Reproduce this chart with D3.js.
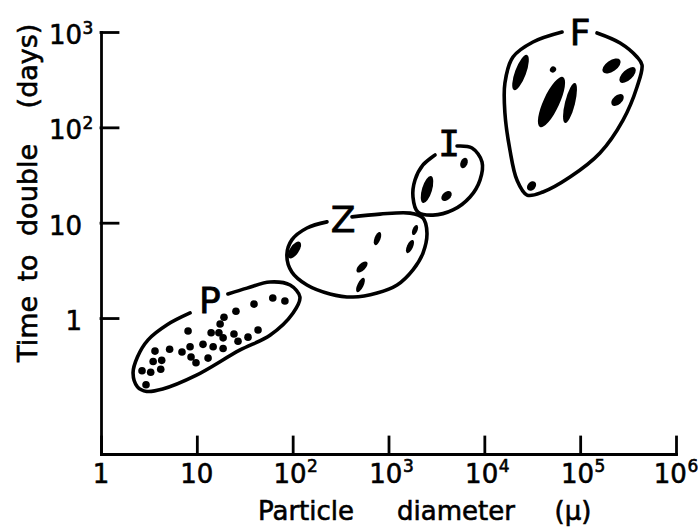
<!DOCTYPE html>
<html>
<head>
<meta charset="utf-8">
<script src="https://cdn.jsdelivr.net/npm/d3@7"></script>
<style>
  html, body { margin: 0; padding: 0; background: #fff; }
  svg { display: block; }
  text { font-family: "DejaVu Sans", sans-serif; fill: #000; stroke: #000; stroke-width: 0.6px; }
</style>
</head>
<body>
<svg id="chart" width="698" height="527"></svg>
<script>
// ---------------- DATA ----------------
// axis ticks
const xTickValues = [1, 10, 100, 1e3, 1e4, 1e5, 1e6];
const xTickLabels = [["1", ""], ["10", ""], ["10", "2"], ["10", "3"], ["10", "4"], ["10", "5"], ["10", "6"]];
const yTickValues = [1, 10, 100, 1000];
const yTickLabels = [["1", ""], ["10", ""], ["10", "2"], ["10", "3"]];

// group labels (diameter μ, days)
const groupNames = ["P", "Z", "I", "F"];
const groupLabelPos = [[13.7, 1.55], [335, 10.9], [4280, 68.5], [99600, 1000]];

// group envelopes: [diameter μ, doubling time days]
const outlineP = [[21.1, 1.79], [33.4, 2.06], [58, 2.39], [94, 2.22], [119, 1.66], [101, 1.13], [58, 0.66], [28, 0.46],
  [9.8, 0.25], [4.4, 0.18], [3.0, 0.17], [2.4, 0.19], [2.16, 0.265], [2.4, 0.39], [3.1, 0.59], [4.9, 0.85], [8.5, 1.13]];
const outlineZ = [[416, 11.5], [815, 12.3], [1680, 12.6], [2290, 11.2], [2520, 7.8], [2290, 4.8], [1800, 3.2], [1230, 2.22],
  [760, 1.83], [426, 1.66], [245, 1.79], [141, 2.22], [98, 3.04], [87, 4.6], [98, 6.6], [141, 8.8], [228, 10.2]];
const outlineI = [[5190, 63.7], [7440, 60.7], [9460, 43.3], [9010, 28.0], [7090, 18.6], [4710, 13.6], [2910, 12.0],
  [2030, 12.9], [1800, 18.6], [1890, 28.0], [2290, 40.3], [3060, 51.3]];
const outlineF = [[1.50e5, 977], [2.61e5, 767], [3.92e5, 547], [4.42e5, 451], [3.92e5, 265], [2.80e5, 119], [1.61e5, 53.8],
  [7.83e4, 30.1], [4.09e4, 21.0], [2.79e4, 19.5], [2.19e4, 28.0], [1.85e4, 57.8], [1.64e4, 141], [1.64e4, 292],
  [1.99e4, 547], [3.22e4, 786], [6.47e4, 1000]];

// phytoplankton points [diameter μ, days]
const pointsP = [[62, 1.62], [83, 1.51], [39.5, 1.40], [25.6, 1.18], [19.2, 1.02], [17.5, 0.865], [8.1, 0.73], [14.1, 0.70],
  [17.0, 0.70], [24.4, 0.68], [43.5, 0.75], [34.2, 0.63], [18.8, 0.62], [26.9, 0.57], [11.6, 0.53], [14.8, 0.50],
  [18.8, 0.48], [8.5, 0.50], [5.2, 0.47], [3.66, 0.45], [7.0, 0.44], [8.7, 0.39], [13.1, 0.38], [4.3, 0.36],
  [3.5, 0.35], [9.8, 0.34], [4.2, 0.29], [2.68, 0.28], [3.3, 0.27], [2.95, 0.20]];

// elongated ranges [x1, y1, x2, y2] for Z, I, F
const rangesZ = [[91.6, 4.26, 119, 6.27], [723, 5.83, 815, 7.98], [1800, 7.43, 1985, 9.45], [1560, 4.81, 1800, 6.58],
  [469, 3.04, 597, 3.87], [469, 1.87, 555, 2.63]];
const rangesI = [[2780, 30.9, 2290, 16.1], [3620, 17.3, 4490, 21.0], [5850, 37.4, 6440, 47.7]];
const rangesF = [[2.79e4, 574, 2.04e4, 246], [4.96e4, 380, 5.47e4, 430], [6.62e4, 337, 3.81e4, 101], [8.83e4, 292, 6.95e4, 111],
  [1.73e5, 380, 2.61e5, 509], [2.61e5, 299, 3.74e5, 419], [2.15e5, 172, 2.80e5, 218], [2.86e4, 22.0, 3.38e4, 26.7]];

// ---------------- STYLE ----------------
const widthsZ = [9, 6, 5, 6, 7, 6];
const widthsI = [10, 8, 7];
const widthsF = [11, 6, 16, 10, 11, 10, 9, 8];

const svg = d3.select("#chart");
const x = d3.scaleLog().domain([1, 1e6]).range([101, 676]);
const y = d3.scaleLog().domain([0.0375, 1000]).range([454, 32]);

// axes
const xAxis = svg.append("g").attr("transform", `translate(0,${y(0.0375)})`)
  .call(d3.axisBottom(x).tickValues(xTickValues).tickSizeInner(-17).tickSizeOuter(0).tickFormat(""));
const yAxis = svg.append("g").attr("transform", `translate(${x(1)},0)`)
  .call(d3.axisLeft(y).tickValues(yTickValues).tickSizeInner(-17).tickSizeOuter(0).tickFormat(""));
[xAxis, yAxis].forEach(g => {
  g.selectAll("path, line").attr("stroke", "#000").attr("stroke-width", 2.8).attr("stroke-linecap", "square");
});

// x tick labels
xTickValues.forEach((v, i) => {
  const [base, exp] = xTickLabels[i];
  const t = svg.append("text").attr("y", 483).attr("font-size", 26).attr("text-anchor", "start").text(base);
  const w = t.node().getComputedTextLength();
  let total = w;
  let e = null;
  if (exp) {
    e = svg.append("text").attr("y", 472).attr("font-size", 17).text(exp);
    total += e.node().getComputedTextLength() + 0.5;
  }
  const shift = (i === xTickValues.length - 1) ? -3 : 0;
  const x0 = x(v) - total / 2 + (exp ? 3 : 0) + shift;
  t.attr("x", x0);
  if (e) e.attr("x", x0 + w + 0.5);
});
// y tick labels
yTickValues.forEach((v, i) => {
  const [base, exp] = yTickLabels[i];
  svg.append("text").attr("x", 82).attr("y", y(v) + 12).attr("font-size", 26).attr("text-anchor", "end").text(base);
  if (exp) {
    svg.append("text").attr("x", 82.5).attr("y", y(v) + 2).attr("font-size", 17).text(exp);
  }
});

// axis titles
const xt = [["Particle", 306], ["diameter", 456], ["(μ)", 573]];
xt.forEach(([w, cx]) => svg.append("text").attr("x", cx).attr("y", 520).attr("font-size", 26).attr("text-anchor", "middle").text(w));
const yt = [["Time", 329], ["to", 268], ["double", 190], ["(days)", 66]];
const ytg = svg.append("g").attr("transform", "translate(37,0) rotate(-90)");
yt.forEach(([w, cy]) => ytg.append("text").attr("x", -cy).attr("y", 0).attr("font-size", 27).attr("text-anchor", "middle").text(w));

// envelopes
const line = d3.line().x(d => x(d[0])).y(d => y(d[1])).curve(d3.curveCatmullRom.alpha(0.5));
[outlineP, outlineZ, outlineI, outlineF].forEach(o => {
  svg.append("path").attr("d", line(o)).attr("fill", "none").attr("stroke", "#000")
    .attr("stroke-width", 3.6).attr("stroke-linecap", "round");
});

// P points
svg.append("g").selectAll("circle").data(pointsP).join("circle")
  .attr("cx", d => x(d[0])).attr("cy", d => y(d[1])).attr("r", 3.8).attr("fill", "#000");

// ranges as filled ellipses
function drawRanges(ranges, widths) {
  ranges.forEach((r, i) => {
    const x1 = x(r[0]), y1 = y(r[1]), x2 = x(r[2]), y2 = y(r[3]);
    const cx = (x1 + x2) / 2, cy = (y1 + y2) / 2;
    const len = Math.hypot(x2 - x1, y2 - y1);
    const ang = Math.atan2(y2 - y1, x2 - x1) * 180 / Math.PI;
    svg.append("ellipse").attr("cx", 0).attr("cy", 0)
      .attr("rx", Math.max(len / 2, widths[i] / 2)).attr("ry", widths[i] / 2)
      .attr("transform", `translate(${cx},${cy}) rotate(${ang})`).attr("fill", "#000");
  });
}
drawRanges(rangesZ, widthsZ);
drawRanges(rangesI, widthsI);
drawRanges(rangesF, widthsF);

// group labels
groupNames.forEach((n, i) => {
  const p = groupLabelPos[i];
  svg.append("text").attr("x", x(p[0])).attr("y", y(p[1]) + 13)
    .attr("font-size", 36).attr("text-anchor", "middle")
    .style("stroke-width", "0.8px")
    .style("font-family", n === "I" ? "'DejaVu Sans Mono', monospace" : null)
    .text(n);
});
</script>
</body>
</html>
